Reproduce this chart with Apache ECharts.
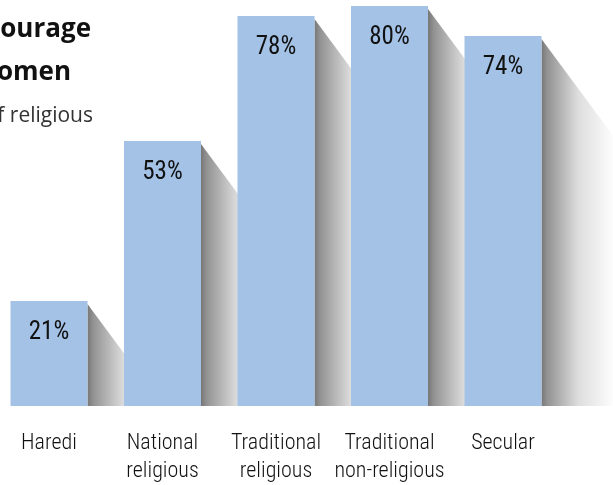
<!DOCTYPE html>
<html>
<head>
<meta charset="utf-8">
<script src="https://cdn.jsdelivr.net/npm/echarts@6/dist/echarts.min.js"></script>
<style>
html,body{margin:0;padding:0;background:#fff;}
#c{width:613px;height:485px;}
</style>
</head>
<body>
<div id="c"></div>
<script>
const categories = ['Haredi', 'National\nreligious', 'Traditional\nreligious', 'Traditional\nnon-religious', 'Secular'];
const values = [21, 53, 78, 80, 74];
const titleLines = ['encourage', 'women'];
const subtitleText = 'of religious';

const chart = echarts.init(document.getElementById('c'), null, {renderer: 'canvas'});
const BAR_W = 77;
const SH_W = 74;
const SLOPE = 1.35;
const condensed = '"Roboto Condensed", "DejaVu Sans Condensed", sans-serif';

chart.setOption({
  animation: false,
  backgroundColor: '#ffffff',
  grid: {left: -7.75, right: 53.25, top: 6, bottom: 79, containLabel: false, outerBoundsMode: 'none'},
  xAxis: {
    type: 'category',
    data: categories,
    axisLine: {show: false},
    axisTick: {show: false},
    axisLabel: {
      interval: 0,
      color: '#111',
      fontSize: 22,
      fontWeight: 300,
      fontFamily: condensed,
      lineHeight: 28,
      margin: 23,
      verticalAlign: 'top'
    }
  },
  yAxis: {type: 'value', min: 0, max: 80, show: false, splitLine: {show: false}},
  graphic: [
    {type: 'text', right: 613 - 91, top: 17, style: {text: titleLines[0], fill: '#111', font: 'bold 26px "Open Sans", sans-serif', textAlign: 'right'}},
    {type: 'text', right: 613 - 71, top: 60, style: {text: titleLines[1], fill: '#111', font: 'bold 26px "Open Sans", sans-serif', textAlign: 'right'}},
    {type: 'text', right: 613 - 93, top: 106, style: {text: subtitleText, fill: '#333', font: '21px "Open Sans", sans-serif', textAlign: 'right'}}
  ],
  series: [
    {
      type: 'custom',
      z: 1,
      data: values.map((v, i) => [i, v]),
      renderItem: function (params, api) {
        const idx = api.value(0);
        const v = api.value(1);
        const top = api.coord([idx, v]);
        const base = api.coord([idx, 0]);
        const xr = top[0] + BAR_W / 2;
        const yt = top[1] + 3;
        return {
          type: 'polygon',
          shape: {points: [[xr, yt], [xr + SH_W, yt + SH_W * SLOPE], [xr + SH_W, base[1]], [xr, base[1]]]},
          style: {
            fill: new echarts.graphic.LinearGradient(xr, 0, xr + SH_W, 0, [
              {offset: 0, color: '#777777'},
              {offset: 0.08, color: '#939393'},
              {offset: 0.5, color: '#dedede'},
              {offset: 1, color: '#ffffff'}
            ], true)
          }
        };
      }
    },
    {
      type: 'bar',
      z: 2,
      data: values,
      barWidth: BAR_W,
      itemStyle: {color: '#a3c2e6'},
      label: {
        show: true,
        position: 'insideTop',
        distance: 19,
        formatter: '{c}%',
        color: '#111',
        fontSize: 25,
        fontWeight: 400,
        fontFamily: condensed
      }
    }
  ]
});
</script>
</body>
</html>
